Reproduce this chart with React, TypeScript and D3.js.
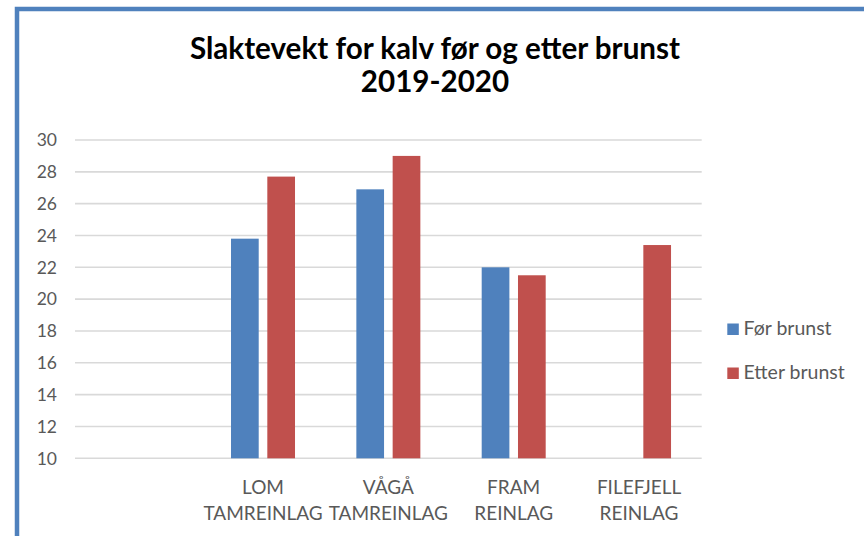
import React from "react";
import * as d3 from "d3";

const categories = ["", "LOM|TAMREINLAG", "VÅGÅ|TAMREINLAG", "FRAM|REINLAG", "FILEFJELL|REINLAG"];
const seriesNames = ["Før brunst", "Etter brunst"];
const forBrunst: (number | null)[] = [null, 23.8, 26.9, 22.0, null];
const etterBrunst: (number | null)[] = [null, 27.7, 29.0, 21.5, 23.4];
const yTicks = [10, 12, 14, 16, 18, 20, 22, 24, 26, 28, 30];
const titleLines = ["Slaktevekt for kalv før og etter brunst", "2019-2020"];

const colors = ["#4f81bd", "#c0504d"];
const W = 864;
const H = 536;
const FONT = "Lato, 'Open Sans', sans-serif";

export default function App() {
  const x = d3.scaleBand<number>().domain(d3.range(categories.length)).range([75, 701.7]).paddingInner(0).paddingOuter(0);
  const sub = d3.scaleBand<number>().domain([0, 1]).range([-32, 32]).paddingInner(0.237).paddingOuter(0);
  const y = d3.scaleLinear().domain([10, 30]).range([458.3, 140]);
  const series = [forBrunst, etterBrunst];

  return (
    <svg width={W} height={H} style={{ position: "absolute", left: 0, top: 0, background: "#fff" }}>
      <rect x={0} y={0} width={W} height={H} fill="#fff" />
      <rect x={17} y={9} width={W + 40} height={H + 40} fill="none" stroke="#4f81bd" strokeWidth={4.5} />
      {titleLines.map((t, i) => (
        <text key={i} x={435} y={58.5 + i * 33.5} textAnchor="middle" fontFamily={FONT} fontWeight={700} fontSize={29.6} fill="#000">
          {t}
        </text>
      ))}
      {yTicks.map((t) => (
        <g key={t}>
          <line x1={75} x2={701.7} y1={y(t)} y2={y(t)} stroke="#d9d9d9" strokeWidth={1.6} />
          <text x={57} y={y(t)} dy="0.36em" textAnchor="end" fontFamily={FONT} fontSize={17.5} fill="#595959">
            {t}
          </text>
        </g>
      ))}
      {series.map((vals, si) =>
        vals.map((v, ci) =>
          v == null ? null : (
            <rect
              key={`${si}-${ci}`}
              x={(x(ci) as number) + x.bandwidth() / 2 + (sub(si) as number)}
              y={y(v)}
              width={sub.bandwidth()}
              height={y(10) - y(v)}
              fill={colors[si]}
            />
          )
        )
      )}
      {categories.map((c, ci) =>
        c.split("|").map((line, li) =>
          line ? (
            <text
              key={`${ci}-${li}`}
              x={(x(ci) as number) + x.bandwidth() / 2}
              y={494 + li * 26}
              textAnchor="middle"
              fontFamily={FONT}
              fontSize={19}
              fill="#595959"
            >
              {line}
            </text>
          ) : null
        )
      )}
      {seriesNames.map((n, i) => (
        <g key={n}>
          <rect x={727.3} y={323.5 + i * 44} width={11.5} height={11.5} fill={colors[i]} />
          <text x={743.5} y={335 + i * 44} fontFamily={FONT} fontSize={19.5} fill="#595959">
            {n}
          </text>
        </g>
      ))}
    </svg>
  );
}
